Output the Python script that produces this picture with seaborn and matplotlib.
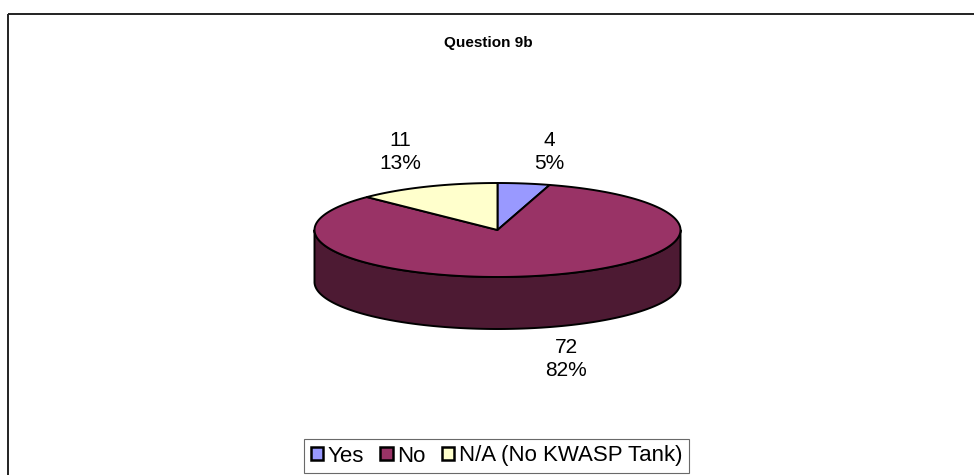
import numpy as np
import pandas as pd
import matplotlib
matplotlib.use("Agg")
import matplotlib.pyplot as plt
from matplotlib.patches import Polygon, Patch
import seaborn as sns

# Survey answers for question 9b
categories = ["Yes", "No", "N/A (No KWASP Tank)"]
counts = [4, 72, 11]
percent_labels = ["5%", "82%", "13%"]
title = "Question 9b"

sns.set_theme(style="white")
plt.rcParams["font.family"] = ["Liberation Sans", "DejaVu Sans"]

df = pd.DataFrame({"answer": categories, "count": counts, "pct": percent_labels})
top_colors = sns.color_palette(["#9999FF", "#993366", "#FFFFCC"])
side_colors = [tuple(c * 0.5 for c in col) for col in top_colors]

W, H = 974, 475
fig = plt.figure(figsize=(W / 100, H / 100), dpi=100)
ax = fig.add_axes([0, 0, 1, 1])
ax.set_xlim(0, W)
ax.set_ylim(H, 0)
ax.axis("off")

# outer chart-area frame (top and left edges visible)
ax.plot([8, W + 5], [14, 14], color="#222222", lw=1.4, solid_capstyle="butt")
ax.plot([8, 8], [14, H + 5], color="#222222", lw=1.4, solid_capstyle="butt")

# 3D pie geometry (screen units, y downward)
cx, cy = 497.5, 230.0
rx, ry = 183.0, 47.0
depth = 52.0


def arc(t0, t1, n=200, dy=0.0):
    t = np.radians(np.linspace(t0, t1, n))
    return np.column_stack([cx + rx * np.sin(t), cy - ry * np.cos(t) + dy])


fracs = df["count"].to_numpy() / df["count"].sum()
bounds = np.concatenate([[0.0], np.cumsum(fracs) * 360.0])

# outer wall: only the front half (90..270 deg clockwise from 12 o'clock) shows
for i in range(len(df)):
    a0, a1 = max(bounds[i], 90.0), min(bounds[i + 1], 270.0)
    if a1 > a0:
        top = arc(a0, a1)
        bot = arc(a0, a1, dy=depth)[::-1]
        ax.add_patch(Polygon(np.vstack([top, bot]), closed=True,
                             facecolor=side_colors[i], edgecolor="black",
                             lw=1.4, joinstyle="round"))

# top faces
for i in range(len(df)):
    pts = np.vstack([[cx, cy], arc(bounds[i], bounds[i + 1])])
    ax.add_patch(Polygon(pts, closed=True, facecolor=top_colors[i],
                         edgecolor="black", lw=1.4, joinstyle="round"))

# data labels: count over percentage
label_pos = {"Yes": (549, 152), "No": (566, 359), "N/A (No KWASP Tank)": (400, 152)}
for _, row in df.iterrows():
    x, y = label_pos[row["answer"]]
    ax.text(x, y, f"{row['count']}\n{row['pct']}", ha="center", va="center",
            fontsize=15, color="black", linespacing=1.3)

ax.text(488, 43, title, ha="center", va="center", fontsize=11,
        fontweight="bold", color="black")

handles = [Patch(facecolor=top_colors[i], edgecolor="black", lw=1.8)
           for i in range(len(df))]
leg = fig.legend(handles, categories, loc="center", ncol=3,
                 bbox_to_anchor=(496.5 / W, 1 - 456 / H), fontsize=16,
                 frameon=True, fancybox=False, edgecolor="#444444",
                 handlelength=0.55, handleheight=0.55, handletextpad=0.2,
                 columnspacing=0.75, borderpad=0.3, borderaxespad=0)
leg.get_frame().set_linewidth(0.8)
for t in leg.get_texts():
    t.set_color("black")

fig.savefig("out.png", dpi=100)
